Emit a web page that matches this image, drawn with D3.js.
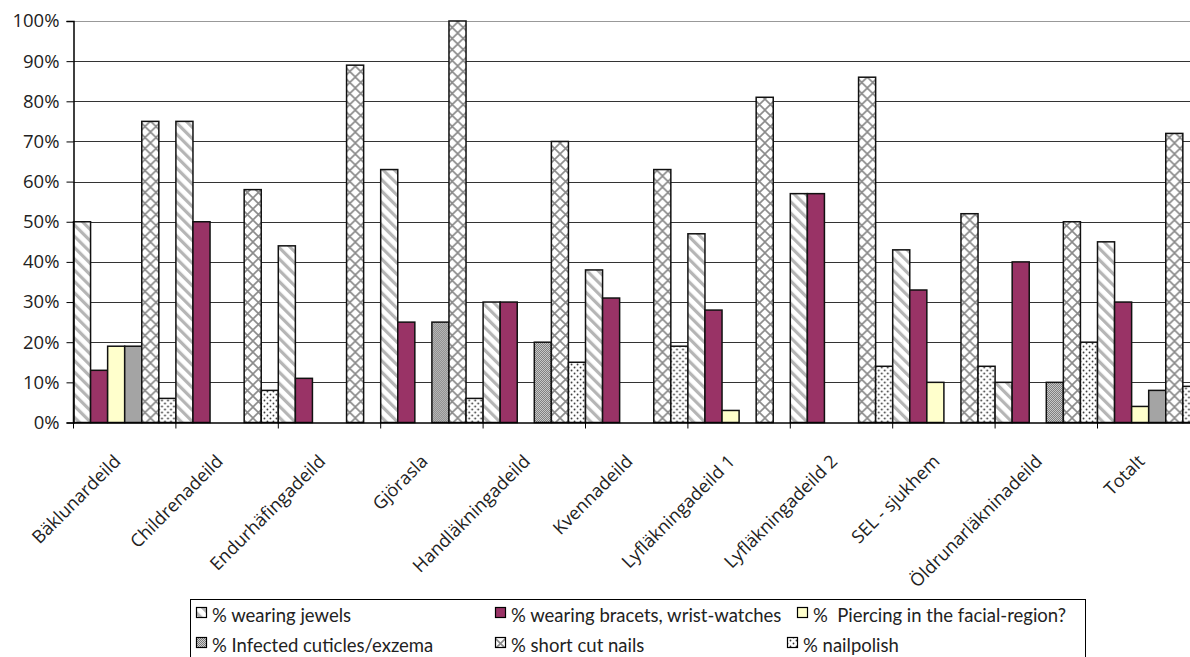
<!DOCTYPE html>
<html><head><meta charset="utf-8">
<script src="https://cdn.jsdelivr.net/npm/d3@7"></script>
<style>
body{margin:0;background:#fff;overflow:hidden}
</style>
</head><body><svg id="chart" width="1190" height="657"></svg>
<script>
// Wards (categories) along the x axis
const categories = ["Bäklunardeild","Childrenadeild","Endurhäfingadeild","Gjörasla","Handläkningadeild","Kvennadeild","Lyfläkningadeild 1","Lyfläkningadeild 2","SEL - sjukhem","Öldrunarläkninadeild","Totalt"];
// Series labels, in drawing order
const seriesNames = ["% wearing jewels","% wearing bracets, wrist-watches","%  Piercing in the facial-region?","% Infected cuticles/exzema","% short cut nails","% nailpolish"];
// Percent values per ward
const jewels     = [50,75,44,63,30,38,47,57,43,10,45];
const bracelets  = [13,50,11,25,30,31,28,57,33,40,30];
const piercing   = [19, 0, 0, 0, 0, 0, 3, 0,10, 0, 4];
const infected   = [19, 0, 0,25,20, 0, 0, 0, 0,10, 8];
const shortNails = [75,58,89,100,70,63,81,86,52,50,72];
const nailpolish = [ 6, 8, 0, 6,15,19, 0,14,14,20, 9];
const yTicks = [0,10,20,30,40,50,60,70,80,90,100];

const seriesValues = [jewels, bracelets, piercing, infected, shortNails, nailpolish];
const fills = ["url(#pJewels)","#993366","#FFFFCC","url(#pInfected)","url(#pCross)","url(#pDots)"];
const labelFont = "'Open Sans', sans-serif";

const svg = d3.select("#chart");
const defs = svg.append("defs");

// diagonal gray stripes
const pj = defs.append("pattern").attr("id","pJewels").attr("patternUnits","userSpaceOnUse")
  .attr("width",8).attr("height",8).attr("patternTransform","rotate(-45)");
pj.append("rect").attr("width",8).attr("height",8).attr("fill","#fff");
pj.append("rect").attr("x",0).attr("y",0).attr("width",3.2).attr("height",8).attr("fill","#b5b5b5");

// fine gray dither
const pi = defs.append("pattern").attr("id","pInfected").attr("patternUnits","userSpaceOnUse")
  .attr("width",2).attr("height",2);
pi.append("rect").attr("width",2).attr("height",2).attr("fill","#d0d0d0");
pi.append("rect").attr("width",1).attr("height",1).attr("fill","#777");
pi.append("rect").attr("x",1).attr("y",1).attr("width",1).attr("height",1).attr("fill","#777");

// diamond lattice
const pc = defs.append("pattern").attr("id","pCross").attr("patternUnits","userSpaceOnUse")
  .attr("width",11).attr("height",11);
pc.append("rect").attr("width",11).attr("height",11).attr("fill","#fff");
pc.append("path").attr("d","M0,0L11,11M11,0L0,11").attr("stroke","#8a8a8a").attr("stroke-width",1.6);

// dots
const pd = defs.append("pattern").attr("id","pDots").attr("patternUnits","userSpaceOnUse")
  .attr("width",6).attr("height",6);
pd.append("rect").attr("width",6).attr("height",6).attr("fill","#fff");
pd.append("circle").attr("cx",1.5).attr("cy",1.5).attr("r",0.9).attr("fill","#333");
pd.append("circle").attr("cx",4.5).attr("cy",4.5).attr("r",0.9).attr("fill","#333");

const x0 = 73.5, bandW = 102.4;
const x = d3.scaleBand().domain(categories).range([x0, x0 + bandW*categories.length]).paddingInner(0).paddingOuter(0);
const xs = d3.scaleBand().domain(d3.range(seriesNames.length)).range([0, x.bandwidth()]).padding(0);
const y = d3.scaleLinear().domain([0,100]).range([422.5, 21]);

// gridlines
svg.append("g").selectAll("line").data(yTicks.filter(d=>d>0)).join("line")
  .attr("x1",x0).attr("x2",1190).attr("y1",d=>Math.round(y(d))+0.5).attr("y2",d=>Math.round(y(d))+0.5)
  .attr("stroke",d=>d===100?"#999":"#333").attr("stroke-width",1);

// bars
const groups = svg.append("g").selectAll("g").data(categories).join("g")
  .attr("transform",c=>`translate(${x(c)},0)`);
groups.selectAll("rect").data((c,i)=>seriesValues.map((s,k)=>({k, v:s[i]})).filter(d=>d.v>0)).join("rect")
  .attr("x",d=>xs(d.k)).attr("width",xs.bandwidth())
  .attr("y",d=>y(d.v)).attr("height",d=>y(0)-y(d.v))
  .attr("fill",d=>fills[d.k]).attr("stroke","#111").attr("stroke-width",1.5);

// y axis
const yAxis = d3.axisLeft(y).tickValues(yTicks).tickFormat(d=>d+"%").tickSize(7).tickPadding(7);
const ya = svg.append("g").attr("transform",`translate(${x0},0)`).call(yAxis);
ya.attr("font-family",null).attr("font-size",null);
ya.select(".domain").attr("stroke","#000").attr("stroke-width",1.5);
ya.selectAll(".tick line").attr("stroke","#000");
ya.selectAll("text").style("font-size","18.5px").style("font-family",labelFont).style("fill","#222");

// x axis
const xAxis = d3.axisBottom(x).tickSize(0).tickFormat("");
const xa = svg.append("g").attr("transform",`translate(0,${y(0)})`).call(xAxis);
xa.select(".domain").attr("stroke","#000").attr("stroke-width",1.5);
xa.selectAll("line.bound").data(d3.range(categories.length+1)).join("line")
  .attr("x1",i=>x0+i*x.step()).attr("x2",i=>x0+i*x.step()).attr("y1",0).attr("y2",6).attr("stroke","#000");

svg.append("g").selectAll("text").data(categories).join("text")
  .attr("transform",c=>`translate(${x(c)+x.bandwidth()/2-3},${y(0)+40}) rotate(-45)`)
  .attr("text-anchor","end")
  .style("font-size","18px").style("font-family",labelFont).style("fill","#222")
  .text(c=>c);

// legend
const lg = svg.append("g");
lg.append("rect").attr("x",190.5).attr("y",599.5).attr("width",895).attr("height",80)
  .attr("fill","#fff").attr("stroke","#000").attr("stroke-width",1);
const legPos = [[196,616],[495,616],[797,616],[196,646],[495,646],[787,646]];
seriesNames.forEach((n,k)=>{
  const [lx,ly] = legPos[k];
  lg.append("rect").attr("x",lx+0.5).attr("y",ly-8.5).attr("width",10).attr("height",10)
    .attr("fill",fills[k]).attr("stroke","#000").attr("stroke-width",1.2);
  lg.append("text").attr("x",lx+16).attr("y",ly+6)
    .style("font-size","18.5px").style("font-family","Lato, sans-serif").style("fill","#222")
    .style("white-space","pre").text(n);
});
</script>
</body></html>
